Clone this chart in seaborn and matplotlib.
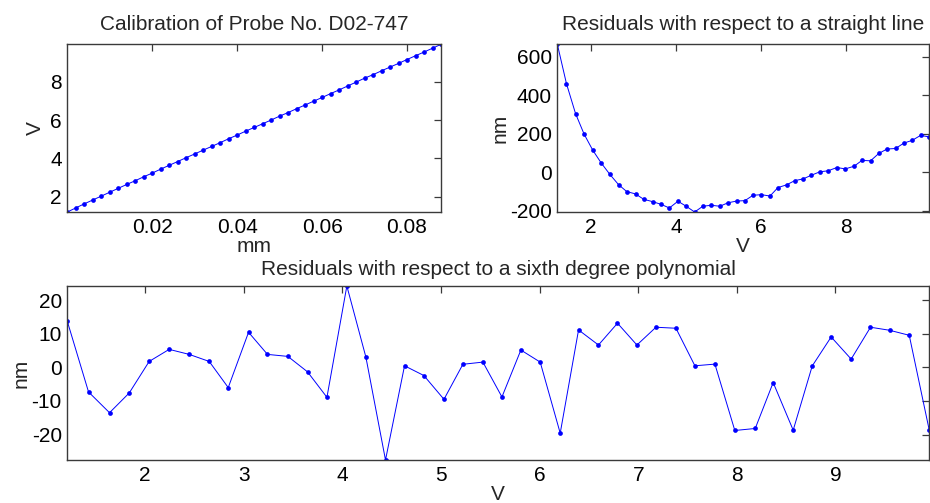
import matplotlib
matplotlib.use("Agg")
import matplotlib.pyplot as plt
import seaborn as sns

# ---- data ----
mm = [0.000, 0.002, 0.004, 0.006, 0.008, 0.010, 0.012, 0.014, 0.016, 0.018,
      0.020, 0.022, 0.024, 0.026, 0.028, 0.030, 0.032, 0.034, 0.036, 0.038,
      0.040, 0.042, 0.044, 0.046, 0.048, 0.050, 0.052, 0.054, 0.056, 0.058,
      0.060, 0.062, 0.064, 0.066, 0.068, 0.070, 0.072, 0.074, 0.076, 0.078,
      0.080, 0.082, 0.084, 0.086, 0.088]

volts = [1.210, 1.425, 1.638, 1.838, 2.040, 2.243, 2.446, 2.649, 2.842, 3.048,
         3.240, 3.447, 3.646, 3.843, 4.045, 4.238, 4.437, 4.630, 4.826, 5.030,
         5.222, 5.425, 5.618, 5.810, 6.006, 6.209, 6.395, 6.597, 6.790, 6.987,
         7.180, 7.383, 7.575, 7.778, 7.980, 8.187, 8.369, 8.572, 8.765, 8.957,
         9.160, 9.356, 9.549, 9.749, 9.952]

line_residuals_nm = [664, 459, 304, 198, 115, 47, -12, -65, -101, -113,
                     -141, -153, -167, -186, -151, -177, -207, -177, -172, -177,
                     -159, -150, -148, -120, -117, -124, -80, -66, -44, -35,
                     -16, 2, 7, 24, 17, 31, 61, 59, 97, 120,
                     123, 151, 165, 191, 183]

poly_residuals_nm = [13.75, -7.3, -13.5, -7.6, 1.8, 5.4, 3.9, 1.8, -6.0, 10.5,
                     3.9, 3.3, -1.3, -8.9, 24.3, 3.1, -27.6, 0.5, -2.4, -9.5,
                     0.95, 1.6, -8.8, 5.2, 1.6, -19.6, 11.2, 6.7, 13.2, 6.7,
                     12.0, 11.7, 0.5, 1.0, -18.8, -18.2, -4.5, -18.7, 0.45, 9.1,
                     2.5, 12.0, 11.1, 9.6, -18.7]

titles = ["Calibration of Probe No. D02-747",
          "Residuals with respect to a straight line",
          "Residuals with respect to a sixth degree polynomial"]

tl_xticks = [0.02, 0.04, 0.06, 0.08]
tl_yticks = [2, 4, 6, 8]
tr_xticks = [2, 4, 6, 8]
tr_yticks = [-200, 0, 200, 400, 600]
b_xticks = [2, 3, 4, 5, 6, 7, 8, 9]
b_yticks = [-20, -10, 0, 10, 20]

# ---- style ----
sns.set_style("white")
plt.rcParams["font.family"] = ["Liberation Sans", "DejaVu Sans"]
plt.rcParams["axes.unicode_minus"] = False
FS = 15
LINE_KW = dict(color="#0000ff", marker="o", markersize=3.4, markeredgewidth=0,
               linewidth=0.7, sort=False, estimator=None)

fig = plt.figure(figsize=(9.30, 5.03), dpi=100)
fig.patch.set_facecolor("white")

ax1 = fig.add_axes([0.0724, 0.5785, 0.4018, 0.3334])
ax2 = fig.add_axes([0.5993, 0.5785, 0.3999, 0.3334])
ax3 = fig.add_axes([0.0724, 0.0855, 0.9268, 0.3459])


def style(ax):
    for s in ax.spines.values():
        s.set_visible(True)
        s.set_color("#3a3a3a")
        s.set_linewidth(1.0)
    ax.tick_params(direction="in", top=True, right=True, length=5, width=0.9,
                   color="#3a3a3a", labelsize=FS, pad=4, labelcolor="black")


sns.lineplot(x=mm, y=volts, ax=ax1, **LINE_KW)
ax1.set_xlim(min(mm), max(mm))
ax1.set_ylim(min(volts), max(volts))
ax1.set_xticks(tl_xticks)
ax1.set_xticklabels([f"{t:.2f}" for t in tl_xticks])
ax1.set_yticks(tl_yticks)
ax1.set_title(titles[0], fontsize=FS, pad=10.5)
ax1.set_xlabel("mm", fontsize=FS, labelpad=0)
ax1.set_ylabel("V", fontsize=FS, labelpad=4)
style(ax1)

sns.lineplot(x=volts, y=line_residuals_nm, ax=ax2, **LINE_KW)
ax2.set_xlim(min(volts), max(volts))
ax2.set_ylim(min(line_residuals_nm), max(line_residuals_nm))
ax2.set_xticks(tr_xticks)
ax2.set_yticks(tr_yticks)
ax2.set_title(titles[1], fontsize=FS, pad=10.5)
ax2.set_xlabel("V", fontsize=FS, labelpad=0)
ax2.set_ylabel("nm", fontsize=FS, labelpad=0)
style(ax2)

sns.lineplot(x=volts, y=poly_residuals_nm, ax=ax3, **LINE_KW)
ax3.set_xlim(min(volts), max(volts))
ax3.set_ylim(min(poly_residuals_nm), max(poly_residuals_nm))
ax3.set_xticks(b_xticks)
ax3.set_yticks(b_yticks)
ax3.set_title(titles[2], fontsize=FS, pad=8)
ax3.set_xlabel("V", fontsize=FS, labelpad=0)
ax3.set_ylabel("nm", fontsize=FS, labelpad=0.5)
style(ax3)

fig.savefig("out.png", dpi=100, facecolor="white")
